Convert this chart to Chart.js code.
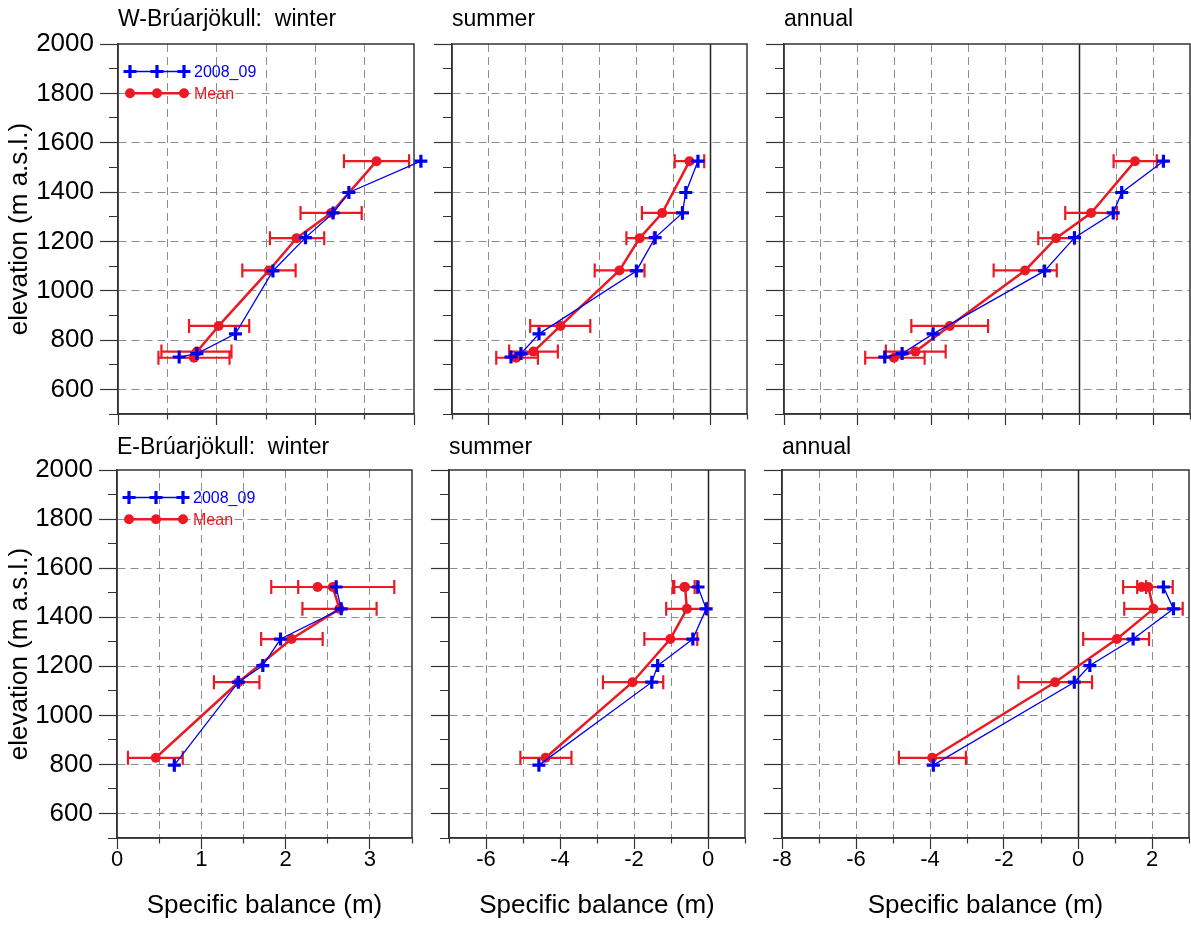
<!DOCTYPE html>
<html>
<head>
<meta charset="utf-8">
<script src="https://cdn.jsdelivr.net/npm/chart.js@4.4.1/dist/chart.umd.min.js"></script>
<style>
html, body { margin: 0; padding: 0; background: #fff; }
body { width: 1191px; height: 931px; position: relative; overflow: hidden; }
canvas { position: absolute; }
</style>
</head>
<body>
<script>
// W-Brúarjökull, 2008_09 profile
const wElevYear = [1525, 1398, 1315, 1215, 1080, 825, 745, 731]
const wWinterYear = [3.07, 2.34, 2.18, 1.90, 1.57, 1.19, 0.80, 0.62]
const wSummerYear = [-0.33, -0.66, -0.75, -1.49, -2.00, -4.64, -5.13, -5.40]
const wAnnualYear = [2.28, 1.15, 0.92, -0.13, -0.94, -3.96, -4.80, -5.27]
// W-Brúarjökull, mean profile with error bars
const wElevMean = [1525, 1315, 1213, 1082, 857, 753, 728]
const wWinterMean = [2.62, 2.16, 1.81, 1.53, 1.02, 0.80, 0.77]
const wWinterLo = [2.29, 1.85, 1.54, 1.26, 0.72, 0.44, 0.41]
const wWinterHi = [2.95, 2.47, 2.09, 1.80, 1.33, 1.15, 1.13]
const wSummerMean = [-0.56, -1.30, -1.91, -2.46, -4.06, -4.79, -5.26]
const wSummerLo = [-0.96, -1.85, -2.27, -3.13, -4.88, -5.45, -5.80]
const wSummerHi = [-0.16, -0.76, -1.53, -1.78, -3.25, -4.13, -4.67]
const wAnnualMean = [1.51, 0.32, -0.63, -1.47, -3.51, -4.44, -5.02]
const wAnnualLo = [0.93, -0.38, -1.11, -2.32, -4.55, -5.24, -5.80]
const wAnnualHi = [2.10, 1.02, -0.13, -0.61, -2.47, -3.62, -4.19]

// E-Brúarjökull, 2008_09 profile
const eElevYear = [1523, 1434, 1311, 1203, 1135, 797]
const eWinterYear = [2.60, 2.66, 1.94, 1.73, 1.44, 0.68]
const eSummerYear = [-0.27, -0.05, -0.41, -1.36, -1.52, -4.57]
const eAnnualYear = [2.31, 2.58, 1.49, 0.32, -0.10, -3.91]
// E-Brúarjökull, mean profile with error bars
const eElevMean = [1523, 1523, 1434, 1311, 1135, 827]
const eWinterMean = [2.38, 2.56, 2.64, 2.07, 1.44, 0.46]
const eWinterLo = [2.15, 1.83, 2.20, 1.71, 1.15, 0.13]
const eWinterHi = [2.60, 3.29, 3.08, 2.44, 1.69, 0.78]
const eSummerMean = [-0.64, -0.62, -0.57, -1.02, -2.04, -4.39]
const eSummerLo = [-0.91, -0.95, -1.13, -1.72, -2.84, -5.07]
const eSummerHi = [-0.36, -0.29, -0.01, -0.29, -1.21, -3.69]
const eAnnualMean = [1.72, 1.90, 2.04, 1.05, -0.62, -3.94]
const eAnnualLo = [1.60, 1.22, 1.25, 0.14, -1.61, -4.84]
const eAnnualHi = [1.84, 2.56, 2.83, 1.92, 0.38, -3.03]

const seriesNames = ['2008_09', 'Mean']
const yTitle = 'elevation (m a.s.l.)'
const xTitle = 'Specific balance (m)'

const FONT = '"Liberation Sans", Arial, sans-serif'
const BLUE = 'rgb(0,0,240)'
const RED = 'rgb(235,25,35)'
const AXIS = '#333'
const GRID = '#8c8c8c'

const zip = (xs, ys) => xs.map((v, i) => ({x: v, y: ys[i]}))

const decor = {
  id: 'decor',
  beforeDatasetsDraw(chart) {
    const {ctx, chartArea: a, scales: {x, y}} = chart
    ctx.save()
    if (x.min < 0 && x.max > 0) {
      const px = Math.round(x.getPixelForValue(0)) + 0.5
      ctx.strokeStyle = '#222'
      ctx.lineWidth = 1.5
      ctx.beginPath()
      ctx.moveTo(px, a.top)
      ctx.lineTo(px, a.bottom)
      ctx.stroke()
    }
    ctx.strokeStyle = AXIS
    ctx.lineWidth = 1.5
    ctx.strokeRect(a.left, a.top, a.right - a.left, a.bottom - a.top)
    chart.data.datasets.forEach(ds => {
      if (!ds.errLo) return
      ctx.strokeStyle = ds.borderColor
      ctx.lineWidth = 2.2
      ds.data.forEach((p, i) => {
        const py = y.getPixelForValue(p.y)
        const x1 = x.getPixelForValue(ds.errLo[i])
        const x2 = x.getPixelForValue(ds.errHi[i])
        ctx.beginPath()
        ctx.moveTo(x1, py); ctx.lineTo(x2, py)
        ctx.moveTo(x1, py - 7); ctx.lineTo(x1, py + 7)
        ctx.moveTo(x2, py - 7); ctx.lineTo(x2, py + 7)
        ctx.stroke()
      })
    })
    ctx.restore()
  },
  afterDraw(chart) {
    const {ctx, chartArea: a} = chart
    const opt = chart.config.options.panel
    ctx.save()
    ctx.fillStyle = '#000'
    ctx.font = '23px ' + FONT
    ctx.textBaseline = 'middle'
    ctx.fillText(opt.title, a.left, a.top - opt.titleGap)
    if (opt.legend) {
      const rows = [
        {y: a.top + 27.5, color: BLUE, width: 1.3, name: seriesNames[0], cross: true},
        {y: a.top + 49.3, color: RED, width: 2.5, name: seriesNames[1], cross: false}
      ]
      ctx.font = '16px ' + FONT
      rows.forEach(r => {
        const x0 = a.left + 12
        ctx.strokeStyle = r.color
        ctx.fillStyle = r.color
        ctx.lineWidth = r.width
        ctx.beginPath()
        ctx.moveTo(x0, r.y); ctx.lineTo(x0 + 54, r.y)
        ctx.stroke()
        ;[0, 27, 54].forEach(dx => {
          const cx = x0 + dx
          if (r.cross) {
            ctx.lineWidth = 3.2
            ctx.beginPath()
            ctx.moveTo(cx - 6.5, r.y); ctx.lineTo(cx + 6.5, r.y)
            ctx.moveTo(cx, r.y - 6.5); ctx.lineTo(cx, r.y + 6.5)
            ctx.stroke()
          } else {
            ctx.beginPath()
            ctx.arc(cx, r.y, 5, 0, Math.PI * 2)
            ctx.fill()
          }
        })
        ctx.fillText(r.name, x0 + 64, r.y + 1)
      })
    }
    ctx.restore()
  }
}

function panel(p) {
  const {rect, row, col} = p
  const L = col === 0 ? rect.l : 20
  const T = row === 0 ? rect.t : 40
  const R = col === 2 ? 1191 - (rect.l + rect.w) : 14
  const B = row === 0 ? 30 : 931 - (rect.t + rect.h)
  const canvas = document.body.appendChild(document.createElement('canvas'))
  canvas.width = L + rect.w + R
  canvas.height = T + rect.h + B
  canvas.style.left = (rect.l - L) + 'px'
  canvas.style.top = (rect.t - T) + 'px'
  const near = v => Math.abs(v - Math.round(v)) < 1e-6
  const majorX = v => p.xStep < 1 ? near(v) : near(v) && Math.abs(Math.round(v)) % 2 === 0
  const inside = (v, lo, hi) => v > lo + 1e-6 && v < hi - 1e-6
  new Chart(canvas, {
    type: 'line',
    data: {
      datasets: [
        {
          label: seriesNames[0], data: zip(p.year, p.elevYear),
          borderColor: BLUE, backgroundColor: BLUE, borderWidth: 1.3,
          pointStyle: 'cross', pointRadius: 6.5, pointBorderWidth: 3.2,
          pointBorderColor: BLUE, pointBackgroundColor: BLUE, clip: false
        },
        {
          label: seriesNames[1], data: zip(p.mean, p.elevMean),
          borderColor: RED, backgroundColor: RED, borderWidth: 2.5,
          pointStyle: 'circle', pointRadius: 5, pointBorderWidth: 0,
          pointBorderColor: RED, pointBackgroundColor: RED, clip: false,
          errLo: p.lo, errHi: p.hi
        }
      ]
    },
    options: {
      panel: {title: p.title, titleGap: row === 0 ? 24 : 22, legend: col === 0},
      responsive: false,
      animation: false,
      devicePixelRatio: 1,
      layout: {autoPadding: false, padding: {left: 0, top: T, right: R, bottom: 0}},
      plugins: {legend: {display: false}, tooltip: {enabled: false}},
      events: [],
      scales: {
        x: {
          type: 'linear', min: p.xMin, max: p.xMax,
          afterFit: s => { s.height = B },
          border: {color: AXIS, width: 1.5, dash: [8, 5]},
          grid: {
            color: c => c.tick && inside(c.tick.value, p.xMin, p.xMax) ? GRID : 'rgba(0,0,0,0)',
            lineWidth: 1,
            tickLength: 11,
            tickColor: AXIS,
            tickWidth: 1.2,
            tickBorderDash: c => c.tick && majorX(c.tick.value) ? [] : [5, 100]
          },
          ticks: {
            stepSize: p.xStep, autoSkip: false, maxRotation: 0, minRotation: 0,
            padding: 0, color: '#000', font: {family: FONT, size: 22, lineHeight: 1},
            callback: v => row === 1 && majorX(v) ? String(Math.round(v)) : ''
          },
          title: {
            display: row === 1, text: xTitle, color: '#000',
            font: {family: FONT, size: 26}, padding: {top: 0, bottom: 10}
          }
        },
        y: {
          type: 'linear', min: 500, max: 2000,
          afterFit: s => { s.width = L },
          border: {color: AXIS, width: 1.5, dash: [8, 5]},
          grid: {
            color: c => c.tick && c.tick.value % 200 === 0 && inside(c.tick.value, 500, 2000) ? GRID : 'rgba(0,0,0,0)',
            lineWidth: 1,
            tickLength: 18,
            tickColor: AXIS,
            tickWidth: 1.2,
            tickBorderDash: c => c.tick && c.tick.value % 200 === 0 ? [] : [0, 9, 9, 100]
          },
          ticks: {
            stepSize: 100, autoSkip: false, padding: 6, color: '#000',
            font: {family: FONT, size: 26},
            callback: v => col === 0 && v % 200 === 0 ? String(v) : ''
          },
          title: {
            display: col === 0, text: yTitle, color: '#000',
            font: {family: FONT, size: 26}, padding: {top: 4, bottom: 0}
          }
        }
      }
    },
    plugins: [decor]
  })
}

panel({row: 0, col: 0, rect: {l: 118, t: 44, w: 296, h: 370}, xMin: 0, xMax: 3, xStep: 0.5,
  title: 'W-Brúarjökull:  winter', elevYear: wElevYear, year: wWinterYear,
  elevMean: wElevMean, mean: wWinterMean, lo: wWinterLo, hi: wWinterHi})
panel({row: 0, col: 1, rect: {l: 452, t: 44, w: 295, h: 370}, xMin: -7, xMax: 1, xStep: 1,
  title: 'summer', elevYear: wElevYear, year: wSummerYear,
  elevMean: wElevMean, mean: wSummerMean, lo: wSummerLo, hi: wSummerHi})
panel({row: 0, col: 2, rect: {l: 784, t: 44, w: 406, h: 370}, xMin: -8, xMax: 3, xStep: 1,
  title: 'annual', elevYear: wElevYear, year: wAnnualYear,
  elevMean: wElevMean, mean: wAnnualMean, lo: wAnnualLo, hi: wAnnualHi})
panel({row: 1, col: 0, rect: {l: 117, t: 470, w: 295, h: 368}, xMin: 0, xMax: 3.5, xStep: 0.5,
  title: 'E-Brúarjökull:  winter', elevYear: eElevYear, year: eWinterYear,
  elevMean: eElevMean, mean: eWinterMean, lo: eWinterLo, hi: eWinterHi})
panel({row: 1, col: 1, rect: {l: 449, t: 470, w: 296, h: 368}, xMin: -7, xMax: 1, xStep: 1,
  title: 'summer', elevYear: eElevYear, year: eSummerYear,
  elevMean: eElevMean, mean: eSummerMean, lo: eSummerLo, hi: eSummerHi})
panel({row: 1, col: 2, rect: {l: 782, t: 470, w: 407, h: 368}, xMin: -8, xMax: 3, xStep: 1,
  title: 'annual', elevYear: eElevYear, year: eAnnualYear,
  elevMean: eElevMean, mean: eAnnualMean, lo: eAnnualLo, hi: eAnnualHi})
</script>
</body>
</html>
